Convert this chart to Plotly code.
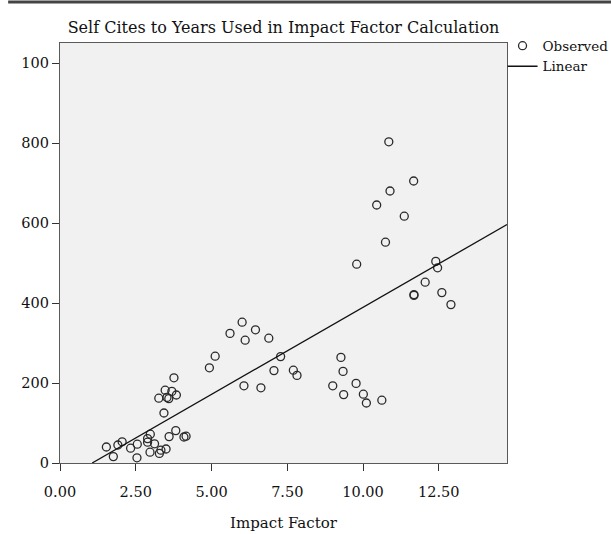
import numpy as np
import plotly.graph_objects as go

impact_factor = [1.53, 1.76, 1.91, 2.05, 2.33, 2.55, 2.54, 2.89, 2.98, 2.89, 3.12, 2.97, 3.28, 3.33,
                 3.50, 3.60, 3.82, 4.09, 4.16, 3.43, 3.26, 3.47, 3.69, 3.76, 3.53, 3.59, 3.84,
                 4.93, 5.12, 5.61, 6.01, 6.11, 6.45, 6.89, 6.07, 6.63, 7.06, 7.28, 7.70, 7.82,
                 9.27, 9.34, 9.00, 9.36, 9.77, 10.01, 10.11, 10.62,
                 11.68, 11.68, 12.60, 12.90, 10.85, 11.67, 10.89, 10.45, 11.36, 10.74, 9.79,
                 12.40, 12.46, 12.05]
self_cites = [40, 16, 45, 53, 37, 47, 13, 61, 72, 52, 48, 27, 24, 32,
              35, 66, 81, 65, 67, 125, 162, 182, 179, 213, 164, 161, 170,
              238, 267, 324, 352, 307, 333, 312, 193, 188, 231, 266, 232, 219,
              264, 229, 193, 171, 199, 172, 150, 157,
              419, 421, 426, 396, 803, 705, 680, 645, 617, 552, 497,
              504, 488, 452]

x_ticks = [0, 2.5, 5, 7.5, 10, 12.5]
x_ticktext = ["0.00", "2.50", "5.00", "7.50", "10.00", "12.50"]
y_ticks = [0, 200, 400, 600, 800, 1000]
y_ticktext = ["0", "200", "400", "600", "800", "100"]
x_range = [0, 14.75]
y_range = [0, 1050]

slope, intercept = np.polyfit(impact_factor, self_cites, 1)
fit_x = [max(-intercept / slope, x_range[0]), x_range[1]]
fit_y = [intercept + slope * v for v in fit_x]

FONT = "DejaVu Serif"

fig = go.Figure()
fig.add_trace(go.Scatter(
    x=impact_factor, y=self_cites, mode="markers", name="Observed",
    marker=dict(symbol="circle-open", size=8, color="#2a2a2a", line=dict(width=1.3)),
))
fig.add_trace(go.Scatter(
    x=fit_x, y=fit_y, mode="lines", name="Linear",
    line=dict(color="#111111", width=1.3),
))

fig.update_layout(
    width=611, height=534,
    margin=dict(l=60, r=104, t=43, b=71, autoexpand=False),
    paper_bgcolor="white",
    plot_bgcolor="#F0F1F0",
    font=dict(family=FONT, color="#111111", size=14),
    title=dict(text="Self Cites to Years Used in Impact Factor Calculation",
               x=0.5, xref="paper", xanchor="center", y=1, yref="paper", yanchor="bottom",
               pad=dict(b=10), font=dict(family=FONT, size=16, color="#111111")),
    showlegend=True,
    legend=dict(x=0.99, xanchor="left", y=1.03, yanchor="top", bgcolor="rgba(0,0,0,0)",
                font=dict(family=FONT, size=13.5, color="#111111"),
                itemwidth=30, tracegroupgap=0),
    xaxis=dict(range=x_range, tickvals=x_ticks, ticktext=x_ticktext,
               showgrid=False, zeroline=False, showline=True, mirror=True,
               linecolor="#5a5a5a", linewidth=1.3, ticks="outside", ticklen=7,
               tickcolor="#333333", tickfont=dict(size=14.5), ticklabelstandoff=8,
               title=dict(text="Impact Factor", font=dict(size=15), standoff=18)),
    yaxis=dict(range=y_range, tickvals=y_ticks, ticktext=y_ticktext,
               showgrid=False, zeroline=False, showline=True, mirror=True,
               linecolor="#5a5a5a", linewidth=1.3, ticks="outside", ticklen=7,
               tickcolor="#333333", tickfont=dict(size=14.5)),
    shapes=[dict(type="line", xref="paper", yref="paper", x0=-0.116, x1=1.25,
                 y0=1.0 + 41 / 420, y1=1.0 + 41 / 420,
                 line=dict(color="#444444", width=3))],
)

fig.write_html("out.html")
